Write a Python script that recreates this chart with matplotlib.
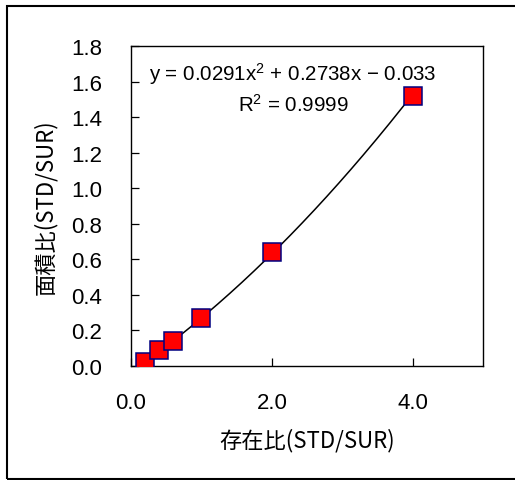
import numpy as np
import matplotlib
matplotlib.use("Agg")
import matplotlib.pyplot as plt
from matplotlib.patches import Rectangle

# 存在比 / 面積比 の検量線データ
ratio_x = [0.2, 0.4, 0.6, 1.0, 2.0, 4.0]
area_y = [0.024, 0.092, 0.140, 0.272, 0.640, 1.520]
coef = [0.0291, 0.2738, -0.033]
r2 = 0.9999

x_ticks = [0.0, 2.0, 4.0]
y_ticks = [0.0, 0.2, 0.4, 0.6, 0.8, 1.0, 1.2, 1.4, 1.6, 1.8]

plt.rcParams['font.family'] = ['Liberation Sans', 'Noto Sans CJK JP']
plt.rcParams['mathtext.fontset'] = 'custom'
plt.rcParams['mathtext.rm'] = 'Liberation Sans'
plt.rcParams['mathtext.it'] = 'Liberation Sans'

fig = plt.figure(figsize=(5.15, 4.81), dpi=100)
ax = fig.add_axes([0.2544, 0.237, 0.6835, 0.6653])

xx = np.linspace(ratio_x[0], ratio_x[-1], 200)
ax.plot(xx, np.polyval(coef, xx), color='black', lw=1.1, zorder=2)
ax.plot(ratio_x, area_y, ls='none', marker='s', ms=13,
        mfc='#ff0000', mec='#000080', mew=1.1, zorder=3)

ax.set_xlim(0, 5)
ax.set_ylim(0, 1.8)
ax.set_xticks(x_ticks)
ax.set_xticklabels([f"{v:.1f}" for v in x_ticks])
ax.set_yticks(y_ticks)
ax.set_yticklabels([f"{v:.1f}" for v in y_ticks])
ax.tick_params(direction='in', length=6, width=0.9, labelsize=16)
ax.tick_params(axis='x', pad=19)
ax.tick_params(axis='y', pad=21)
for s in ax.spines.values():
    s.set_linewidth(1.0)

jp = ['Noto Sans CJK JP', 'DejaVu Sans']
ax.set_xlabel("存在比(STD/SUR)", fontsize=16, family=jp, labelpad=10)
ax.set_ylabel("面積比(STD/SUR)", fontsize=16, family=jp, labelpad=10)

ax.text(0.46, 0.915, "y = 0.0291x$^{2}$ + 0.2738x − 0.033",
        transform=ax.transAxes, ha='center', va='center', fontsize=14.8)
ax.text(0.46, 0.82, f"R$^{{2}}$ = {r2}",
        transform=ax.transAxes, ha='center', va='center', fontsize=14.8)

fig.patches.append(Rectangle((7 / 515, 1 / 481), 1.0, 473 / 481,
                             transform=fig.transFigure, fill=False,
                             edgecolor='black', lw=1.5))

fig.savefig("out.png", dpi=100)
